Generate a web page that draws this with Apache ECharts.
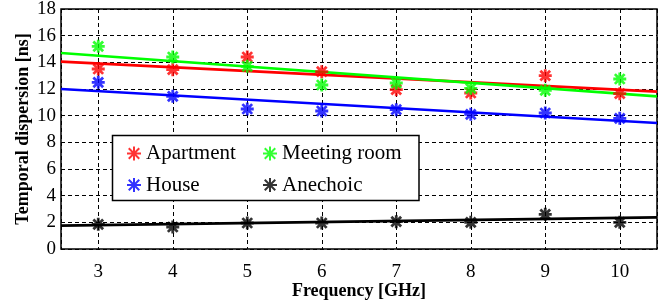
<!DOCTYPE html>
<html>
<head>
<meta charset="utf-8">
<script src="https://cdn.jsdelivr.net/npm/echarts@6/dist/echarts.min.js"></script>
<style>
html,body{margin:0;padding:0;background:#fff;}
#chart{width:667px;height:302px;}
</style>
</head>
<body>
<div id="chart"></div>
<script>
// frequencies (GHz)
var freqs = [3, 4, 5, 6, 7, 8, 9, 10];
// measured temporal dispersion (ns)
var apartment = [13.5, 13.45, 14.4, 13.3, 11.95, 11.7, 13.0, 11.65];
var meetingRoom = [15.2, 14.4, 13.7, 12.3, 12.45, 12.05, 11.9, 12.75];
var house = [12.5, 11.45, 10.5, 10.35, 10.45, 10.1, 10.2, 9.8];
var anechoic = [1.85, 1.65, 1.95, 1.95, 2.05, 2.0, 2.6, 2.0];
// linear fit end points at 2.5 and 10.5 GHz
var fitX = [2.5, 10.5];
var apartmentFit = [14.05, 11.8];
var meetingFit = [14.7, 11.45];
var houseFit = [12.0, 9.45];
var anechoicFit = [1.75, 2.37];

var colors = {
	'Apartment': '#ff0000',
	'Meeting room': '#00ff00',
	'House': '#0000ff',
	'Anechoic': '#000000'
};
var star = 'path://M0,-10L0,10M-10,0L10,0M-7.5,-7.5L7.5,7.5M-7.5,7.5L7.5,-7.5';
var serif = 'Liberation Serif';

function pairs(xs, ys){
	var out = [];
	for(var i=0;i<xs.length;i++){
		out.push([xs[i], ys[i]]);
	}
	return out;
}

function scatter(name, vals){
	return {
		name: name,
		type: 'scatter',
		symbol: star,
		symbolSize: 13,
		data: pairs(freqs, vals),
		itemStyle: {
			color: colors[name],
			borderColor: colors[name],
			borderWidth: 2.8
		},
		z: 4
	};
}

function fit(name, vals){
	return {
		name: name + ' fit',
		type: 'line',
		showSymbol: false,
		symbol: 'none',
		data: pairs(fitX, vals),
		lineStyle: {color: colors[name], width: 2.6},
		itemStyle: {color: colors[name]},
		z: 3
	};
}

var chart = echarts.init(document.getElementById('chart'));
var legendText = {fontFamily: serif, fontSize: 21, color: '#000', lineHeight: 21, padding: [0,0,0,0]};
var option = {
	animation: false,
	backgroundColor: '#fff',
	textStyle: {fontFamily: serif},
	grid: {
		left: 61, right: 10, top: 9, bottom: 53,
		outerBoundsMode: 'none',
		containLabel: false,
		show: true,
		borderColor: '#000',
		borderWidth: 1.5
	},
	xAxis: {
		type: 'value',
		min: 2.5,
		max: 10.5,
		splitNumber: 8,
		name: 'Frequency [GHz]',
		nameLocation: 'middle',
		nameMoveOverlap: false,
		nameGap: 33,
		nameTextStyle: {fontFamily: serif, fontWeight: 'bold', fontSize: 18, color: '#000'},
		axisLine: {show: false},
		axisTick: {show: false},
		axisLabel: {
			fontFamily: serif, fontSize: 19, color: '#000', margin: 14,
			formatter: function(v){ return (v % 1 === 0) ? String(v) : ''; }
		},
		splitLine: {show: true, lineStyle: {color: '#000', width: 1, type: [4, 3]}}
	},
	yAxis: {
		type: 'value',
		min: 0,
		max: 18,
		interval: 2,
		name: 'Temporal dispersion [ns]',
		nameLocation: 'middle',
		nameRotate: 90,
		nameMoveOverlap: false,
		nameGap: 29,
		nameTextStyle: {fontFamily: serif, fontWeight: 'bold', fontSize: 18, color: '#000'},
		axisLine: {show: false},
		axisTick: {show: false},
		axisLabel: {fontFamily: serif, fontSize: 19, color: '#000', margin: 5},
		splitLine: {show: true, lineStyle: {color: '#000', width: 1, type: [4, 3]}}
	},
	graphic: [{
		type: 'rect',
		shape: {x: 112.5, y: 135.5, width: 306.5, height: 65},
		style: {fill: '#fff', stroke: '#000', lineWidth: 1.5},
		z: 3
	}],
	legend: [{
		orient: 'vertical',
		left: 121,
		top: 138,
		itemWidth: 14,
		itemHeight: 14,
		itemGap: 10.5,
		data: ['Apartment', 'House'],
		textStyle: legendText,
		z: 5
	}, {
		orient: 'vertical',
		left: 257,
		top: 138,
		itemWidth: 14,
		itemHeight: 14,
		itemGap: 10.5,
		data: ['Meeting room', 'Anechoic'],
		textStyle: legendText,
		z: 5
	}],
	series: [
		fit('Apartment', apartmentFit),
		fit('Meeting room', meetingFit),
		fit('House', houseFit),
		fit('Anechoic', anechoicFit),
		scatter('Apartment', apartment),
		scatter('Meeting room', meetingRoom),
		scatter('House', house),
		scatter('Anechoic', anechoic)
	]
};
chart.setOption(option);
</script>
</body>
</html>
